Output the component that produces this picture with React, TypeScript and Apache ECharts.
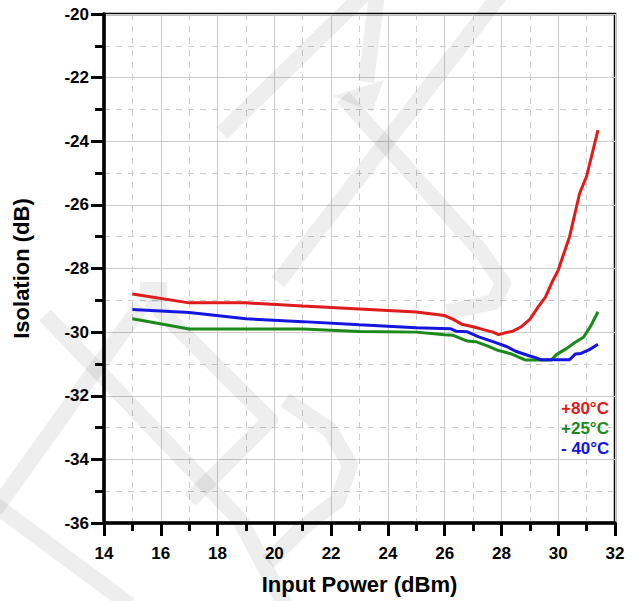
import React, { useEffect, useRef } from "react";
import * as echarts from "echarts";

const seriesNames = ["+80°C", "+25°C", "- 40°C"];
const seriesColors = ["#e01b1b", "#1b8a1b", "#1515e0"];

const hotX = [15, 17, 19, 21, 23, 25, 26, 26.3, 26.6, 27, 27.4, 27.7, 27.9, 28.1, 28.4, 28.7, 29.0, 29.3, 29.55, 29.8, 30.0, 30.4, 30.75, 31.0, 31.4];
const hotY = [-28.8, -29.08, -29.08, -29.18, -29.27, -29.37, -29.48, -29.6, -29.75, -29.83, -29.93, -30.0, -30.08, -30.03, -29.97, -29.83, -29.6, -29.2, -28.9, -28.4, -28.05, -27.0, -25.65, -25.1, -23.65];

const roomX = [15, 17, 19, 21, 23, 25, 26, 26.3, 26.8, 27.1, 27.5, 27.9, 28.3, 28.85, 29.75, 29.95, 30.3, 30.6, 30.9, 31.15, 31.4];
const roomY = [-29.58, -29.9, -29.9, -29.9, -29.98, -30.0, -30.08, -30.1, -30.28, -30.3, -30.43, -30.58, -30.67, -30.88, -30.88, -30.7, -30.51, -30.32, -30.15, -29.8, -29.36];

const coldX = [15, 17, 19, 21, 23, 25, 26.2, 26.4, 26.8, 27.2, 27.7, 28.2, 28.5, 29.0, 29.2, 29.4, 30.4, 30.6, 30.8, 31.1, 31.4];
const coldY = [-29.29, -29.38, -29.58, -29.67, -29.77, -29.86, -29.89, -29.97, -29.99, -30.15, -30.3, -30.46, -30.6, -30.75, -30.8, -30.87, -30.87, -30.69, -30.67, -30.55, -30.38];

const xTickMin = 14;
const xTickMax = 32;
const yTickMin = -36;
const yTickMax = -20;

const xName = "Input Power (dBm)";
const yName = "Isolation (dB)";

const FONT = "'Liberation Sans', Arial, sans-serif";

function zip(xs: number[], ys: number[]) {
  return xs.map((x, i) => [x, ys[i]]);
}

// watermark strokes (decorative)
const wmStrokes: number[][][] = [
  [[363, -5], [222, 133]],
  [[377, -5], [366, 82]],
  [[500, -5], [278, 282]],
  [[343, 97], [480, 250], [503, 283], [494, 302], [447, 312]],
  [[285, 400], [330, 430], [350, 465], [338, 500], [300, 530], [268, 562]],
  [[141, 306], [-5, 510]],
  [[45, 315], [240, 520], [285, 605]],
  [[-5, 505], [130, 605]],
  [[150, 300], [270, 420], [190, 500]],
];

const WM = "rgba(0,0,0,0.065)";

export default function App() {
  const ref = useRef<HTMLDivElement>(null);
  useEffect(() => {
    if (!ref.current) return;
    const chart = echarts.init(ref.current, null, { renderer: "svg" });
    const series = [zip(hotX, hotY), zip(roomX, roomY), zip(coldX, coldY)].map((d, i) => ({
      name: seriesNames[i],
      type: "line",
      data: d,
      showSymbol: false,
      symbol: "none",
      z: 3,
      lineStyle: { color: seriesColors[i], width: 3 },
    }));

    const graphic: any[] = wmStrokes.map((pts) => ({
      type: "polyline",
      z: 1,
      silent: true,
      shape: { points: pts },
      style: { stroke: WM, lineWidth: 16, fill: null, lineJoin: "round" },
    }));
    graphic.push({
      type: "polygon",
      z: 1,
      silent: true,
      shape: { points: [[333, 96], [384, 80], [372, 112]] },
      style: { fill: WM },
    });
    graphic.push({
      type: "rect",
      z: 1,
      silent: true,
      shape: { x: 140, y: 282, width: 27, height: 20 },
      style: { fill: WM },
    });
    seriesNames.forEach((n, i) => {
      graphic.push({
        type: "text",
        z: 10,
        left: 561,
        top: 400 + i * 20,
        style: {
          text: n,
          fill: seriesColors[i],
          font: `bold 17px ${FONT}`,
        },
      });
    });

    chart.setOption({
      animation: false,
      grid: {
        left: 104,
        right: 18,
        top: 14,
        bottom: 78,
        show: true,
        borderColor: "#000",
        borderWidth: 2.5,
        backgroundColor: "transparent",
      },
      xAxis: {
        type: "value",
        min: xTickMin,
        max: xTickMax,
        interval: 2,
        name: xName,
        nameLocation: "middle",
        nameGap: 50,
        nameTextStyle: { fontFamily: FONT, fontWeight: "bold", fontSize: 22, color: "#000" },
        axisLine: { show: true, lineStyle: { color: "#000", width: 3.5 } },
        axisTick: { show: true, length: 13, lineStyle: { color: "#000", width: 3 } },
        minorTick: { show: true, splitNumber: 2, length: 8, lineStyle: { color: "#000", width: 3 } },
        splitLine: { show: true, lineStyle: { color: "#cccccc", width: 1 } },
        minorSplitLine: { show: true, lineStyle: { color: "#cccccc", width: 1, type: [6, 6] } },
        axisLabel: { fontFamily: FONT, fontWeight: "bold", fontSize: 17, color: "#000", margin: 22 },
      },
      yAxis: {
        type: "value",
        min: yTickMin,
        max: yTickMax,
        interval: 2,
        name: yName,
        nameLocation: "middle",
        nameGap: 72,
        nameTextStyle: { fontFamily: FONT, fontWeight: "bold", fontSize: 22, color: "#000" },
        axisLine: { show: true, lineStyle: { color: "#000", width: 3.5 } },
        axisTick: { show: true, length: 13, lineStyle: { color: "#000", width: 3 } },
        minorTick: { show: true, splitNumber: 2, length: 9, lineStyle: { color: "#000", width: 3 } },
        splitLine: { show: true, lineStyle: { color: "#cccccc", width: 1 } },
        minorSplitLine: { show: true, lineStyle: { color: "#cccccc", width: 1, type: [6, 6] } },
        axisLabel: { fontFamily: FONT, fontWeight: "bold", fontSize: 17, color: "#000", margin: 15 },
      },
      graphic,
      series,
    });
    return () => chart.dispose();
  }, []);
  return (
    <div
      ref={ref}
      style={{ position: "absolute", left: 0, top: 0, width: 633, height: 601, background: "#fff" }}
    />
  );
}
